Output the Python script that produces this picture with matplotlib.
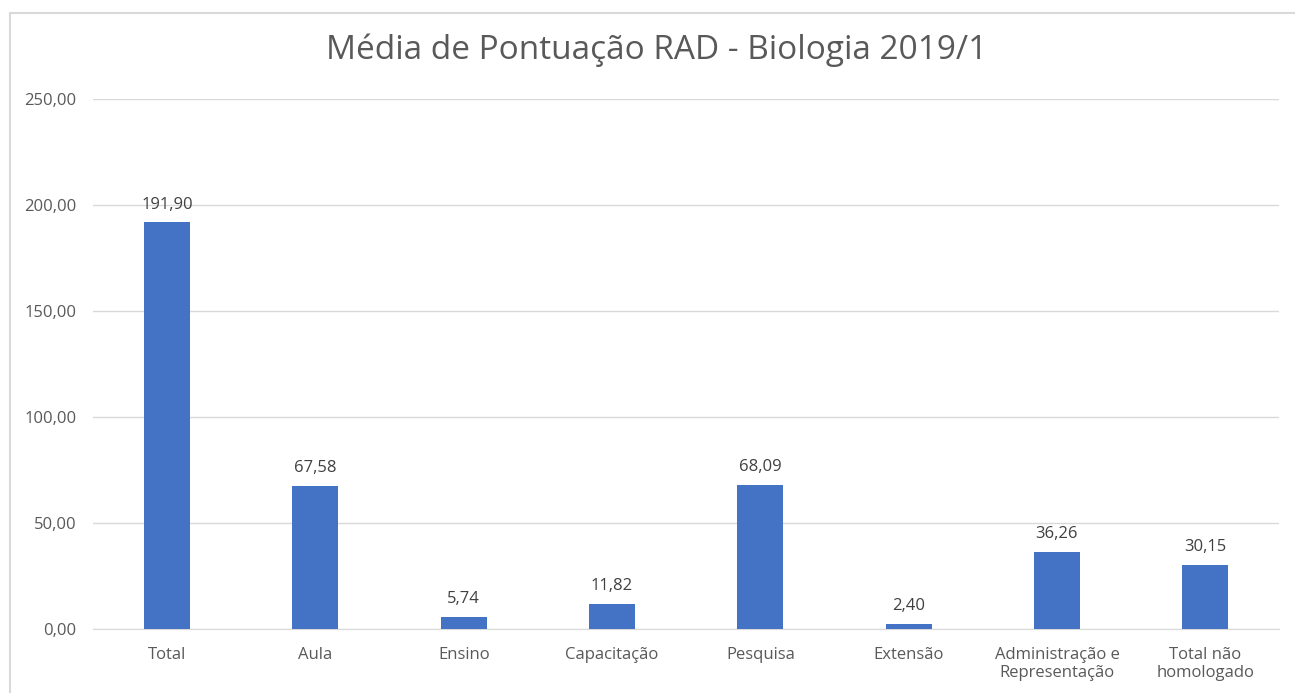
import matplotlib
matplotlib.use("Agg")
import matplotlib.pyplot as plt
from matplotlib.ticker import FuncFormatter
from matplotlib.lines import Line2D

categorias = ["Total", "Aula", "Ensino", "Capacitação", "Pesquisa", "Extensão",
              "Administração e\nRepresentação", "Total não\nhomologado"]
valores = [191.90, 67.58, 5.74, 11.82, 68.09, 2.40, 36.26, 30.15]
y_ticks = [0, 50, 100, 150, 200, 250]

AZUL = "#4472c4"
CINZA = "#595959"

W, H = 1295, 693


def virgula(v, pos=None):
    return f"{v:.2f}".replace(".", ",")


plt.rcParams["font.family"] = ["Open Sans", "DejaVu Sans"]

fig = plt.figure(figsize=(W / 100, H / 100), dpi=100)
ax = fig.add_axes([0.0718, 0.0924, 0.9162, 0.7646])

x = list(range(len(categorias)))
barras = ax.bar(x, valores, width=0.31, color=AZUL, zorder=3)

for b, v in zip(barras, valores):
    ax.annotate(virgula(v), (b.get_x() + b.get_width() / 2, v),
                xytext=(0, 7), textcoords="offset points",
                ha="center", va="bottom", fontsize=12, color="#404040")

ax.set_xlim(-0.5, len(categorias) - 0.5)
ax.set_ylim(0, 250)
ax.set_yticks(y_ticks)
ax.yaxis.set_major_formatter(FuncFormatter(virgula))
ax.set_xticks(x)
ax.set_xticklabels(categorias, linespacing=1.15)
ax.tick_params(axis="both", length=0, labelsize=12, labelcolor=CINZA)
ax.tick_params(axis="y", pad=12)
ax.tick_params(axis="x", pad=13)

ax.grid(axis="y", color="#d9d9d9", linewidth=1, zorder=0)
for s in ["left", "right", "top"]:
    ax.spines[s].set_visible(False)
ax.spines["bottom"].set_color("#d9d9d9")

fig.text(0.507, 0.927, "Média de Pontuação RAD - Biologia 2019/1",
         ha="center", va="center", fontsize=24, color=CINZA)

# moldura (cortada à direita e embaixo)
bx, by = 9.5 / W, 1 - 12.5 / H
fig.add_artist(Line2D([bx, bx], [0, by], transform=fig.transFigure,
                      color="#d9d9d9", linewidth=1.5))
fig.add_artist(Line2D([bx, 1], [by, by], transform=fig.transFigure,
                      color="#d9d9d9", linewidth=1.5))

fig.savefig("out.png", dpi=100)
